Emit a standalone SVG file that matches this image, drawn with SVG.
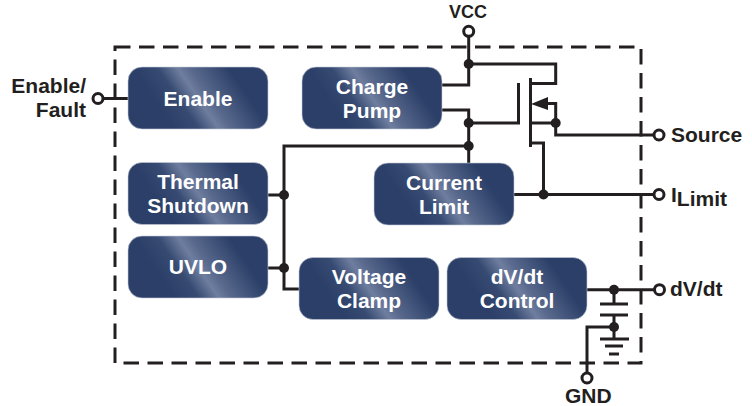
<svg xmlns="http://www.w3.org/2000/svg" width="752" height="406" viewBox="0 0 752 406">
<defs>
<linearGradient id="grad" gradientUnits="userSpaceOnUse" x1="20" y1="65" x2="120" y2="-3">
<stop offset="0.2" stop-color="#2b3f68"/><stop offset="0.36" stop-color="#364a72"/><stop offset="0.5" stop-color="#6f7e9f"/><stop offset="0.58" stop-color="#5a6a8e"/><stop offset="0.85" stop-color="#2b3f68"/>
</linearGradient>
</defs>
<style>
.box{fill:url(#grad);stroke:#c5cbd8;stroke-width:.6}
.bt{font:bold 21px "Liberation Sans",Arial,sans-serif;fill:#fff;text-anchor:middle}
.lb{font:bold 21px "Liberation Sans",Arial,sans-serif;fill:#231f20}
.w{fill:none;stroke:#231f20;stroke-width:3}
.d{fill:#231f20;stroke:none}
.p{fill:#fff;stroke:#231f20;stroke-width:3}
</style>
<rect id="boundary" x="115" y="47" width="526" height="316" fill="none" stroke="#231f20" stroke-width="3" stroke-dasharray="15.5 8.5"/>
<g id="connectors">
<path class="w" d="M468.7 36V85H442M468.7 64H555.7V83.5H530.5M530.5 78V147M518.5 83V123H468.7M442 110H468.7V163M468.7 146H284V289H299M268 195H284M268 268H284"/>
<path class="w" d="M548 103.5H555.7V135H653M530.5 123H555.7M530.5 143H543.5V194.5M514 194.5H653M103 98.5H128"/>
<path class="w" d="M587 289.7H654M614 289.7V304M600 304H628M600 315H628M614 315V339M600 339H629M605 346H623M609 354H619M614 327H587V373"/>
<polygon class="d" points="531,104 548,97 548,110"/>
<circle class="d" cx="468.7" cy="64" r="5"/><circle class="d" cx="468.7" cy="123" r="5"/><circle class="d" cx="468.7" cy="146" r="5"/>
<circle class="d" cx="555.7" cy="123" r="5"/><circle class="d" cx="543.5" cy="194.5" r="5"/><circle class="d" cx="284" cy="195" r="5"/><circle class="d" cx="284" cy="268" r="5"/>
<circle class="d" cx="614" cy="289.7" r="5"/><circle class="d" cx="614" cy="327" r="5"/>
</g>
<g id="enable" transform="translate(128,67)"><rect class="box" width="140" height="62" rx="14"/><text class="bt" x="70" y="39">Enable</text></g>
<g id="thermal-shutdown" transform="translate(128,162.5)"><rect class="box" width="140" height="62" rx="14"/><text class="bt" x="70" y="26.5">Thermal</text><text class="bt" x="70" y="50.5">Shutdown</text></g>
<g id="uvlo" transform="translate(128,236)"><rect class="box" width="140" height="62" rx="14"/><text class="bt" x="70" y="38">UVLO</text></g>
<g id="charge-pump" transform="translate(302,67)"><rect class="box" width="140" height="62" rx="14"/><text class="bt" x="70" y="26.5">Charge</text><text class="bt" x="70" y="50.5">Pump</text></g>
<g id="current-limit" transform="translate(374,163)"><rect class="box" width="140" height="62" rx="14"/><text class="bt" x="70" y="26.5">Current</text><text class="bt" x="70" y="50.5">Limit</text></g>
<g id="voltage-clamp" transform="translate(299,257.5)"><rect class="box" width="140" height="62" rx="14"/><text class="bt" x="70" y="26.5">Voltage</text><text class="bt" x="70" y="50.5">Clamp</text></g>
<g id="dvdt-control" transform="translate(447,257.5)"><rect class="box" width="140" height="62" rx="14"/><text class="bt" x="70" y="26.5">dV/dt</text><text class="bt" x="70" y="50.5">Control</text></g>
<g id="vcc"><circle class="p" cx="468.7" cy="31.3" r="5"/><text class="lb" style="font-size:18px" x="449" y="18">VCC</text></g>
<g id="enable-fault"><circle class="p" cx="98" cy="98.5" r="5"/><text class="lb" text-anchor="end" x="86" y="93">Enable/</text><text class="lb" text-anchor="end" x="86" y="117">Fault</text></g>
<g id="source"><circle class="p" cx="659" cy="135" r="5"/><text class="lb" x="671" y="142">Source</text></g>
<g id="ilimit"><circle class="p" cx="659" cy="194.5" r="5"/><text class="lb" x="671" y="202">I<tspan dy="4">Limit</tspan></text></g>
<g id="dvdt"><circle class="p" cx="659.5" cy="289.7" r="5"/><text class="lb" x="670" y="296">dV/dt</text></g>
<g id="gnd"><circle class="p" cx="587" cy="378" r="5"/><text class="lb" x="565" y="403">GND</text></g>
</svg>
